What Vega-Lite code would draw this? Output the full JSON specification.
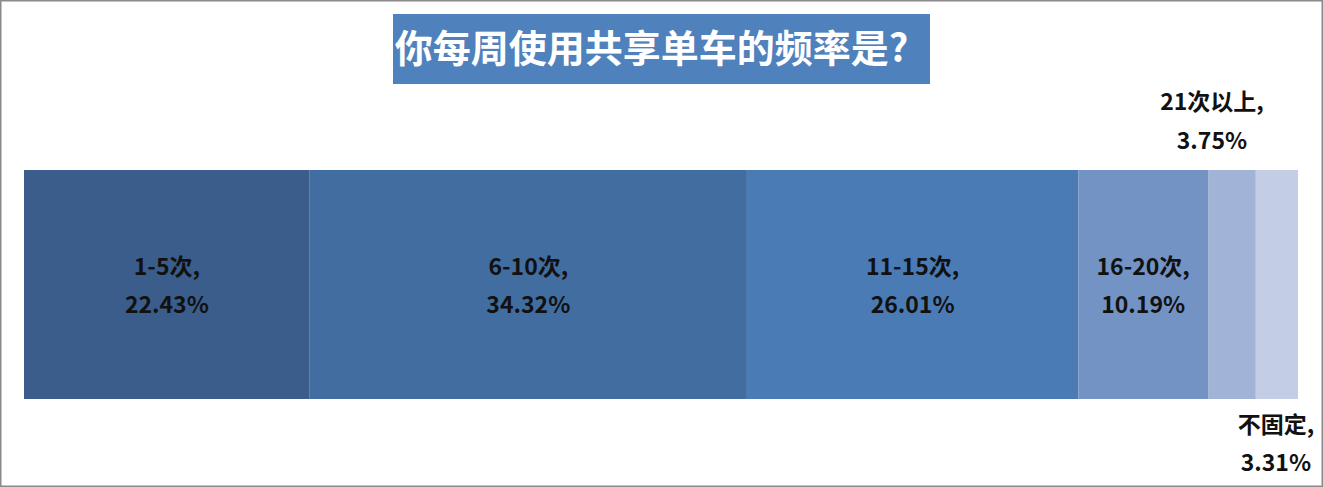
{
  "$schema": "https://vega.github.io/schema/vega-lite/v6.json",
  "width": 1323,
  "height": 487,
  "padding": 0,
  "autosize": "none",
  "background": "white",
  "config": {
    "view": {"stroke": "#8a8a8a", "strokeWidth": 3},
    "text": {"font": "Noto Sans CJK SC", "fontWeight": "bold"}
  },
  "data": {
    "values": [
      {"freq": "1-5次", "pct": 22.43, "order": 1},
      {"freq": "6-10次", "pct": 34.32, "order": 2},
      {"freq": "11-15次", "pct": 26.01, "order": 3},
      {"freq": "16-20次", "pct": 10.19, "order": 4},
      {"freq": "21次以上", "pct": 3.75, "order": 5},
      {"freq": "不固定", "pct": 3.31, "order": 6}
    ]
  },
  "transform": [
    {"stack": "pct", "groupby": [], "sort": [{"field": "order"}], "as": ["x0", "x1"]},
    {"calculate": "(datum.x0 + datum.x1) / 2", "as": "mid"},
    {"calculate": "[datum.freq + ',', format(datum.pct, '.2f') + '%']", "as": "label"}
  ],
  "layer": [
    {
      "mark": {"type": "rect"},
      "encoding": {
        "x": {"field": "x0", "type": "quantitative", "axis": null,
              "scale": {"domain": [-1.884, 101.973], "zero": false, "nice": false}},
        "x2": {"field": "x1"},
        "y": {"datum": 0, "type": "quantitative", "axis": null,
              "scale": {"domain": [-0.3843, 1.7424], "zero": false, "nice": false}},
        "y2": {"datum": 1},
        "color": {
          "field": "freq", "type": "nominal", "legend": null,
          "sort": ["1-5次", "6-10次", "11-15次", "16-20次", "21次以上", "不固定"],
          "scale": {
            "domain": ["1-5次", "6-10次", "11-15次", "16-20次", "21次以上", "不固定"],
            "range": ["#3a5d8b", "#426da0", "#4a7bb5", "#7293c4", "#a1b3d6", "#c3cde3"]
          }
        }
      }
    },
    {
      "transform": [{"filter": "datum.order <= 4"}],
      "mark": {"type": "text", "fontSize": 23, "lineHeight": 38, "baseline": "middle", "color": "#111111", "dy": -17},
      "encoding": {
        "x": {"field": "mid", "type": "quantitative"},
        "y": {"datum": 0.5, "type": "quantitative"},
        "text": {"field": "label"}
      }
    },
    {
      "transform": [{"filter": "datum.order == 5"}],
      "mark": {"type": "text", "fontSize": 23, "lineHeight": 39, "baseline": "middle", "color": "#111111", "dx": -20, "dy": -67},
      "encoding": {
        "x": {"field": "mid", "type": "quantitative"},
        "y": {"datum": 1, "type": "quantitative"},
        "text": {"field": "label"}
      }
    },
    {
      "transform": [{"filter": "datum.order == 6"}],
      "mark": {"type": "text", "fontSize": 23, "lineHeight": 38, "baseline": "middle", "color": "#111111", "dx": -1, "dy": 27},
      "encoding": {
        "x": {"field": "mid", "type": "quantitative"},
        "y": {"datum": 0, "type": "quantitative"},
        "text": {"field": "label"}
      }
    },
    {
      "data": {"values": [{"title": "你每周使用共享单车的频率是?"}]},
      "mark": {"type": "rect", "color": "#4f81bd"},
      "encoding": {
        "x": {"datum": 28.967, "type": "quantitative"},
        "x2": {"datum": 71.122},
        "y": {"datum": 1.6813, "type": "quantitative"},
        "y2": {"datum": 1.3756}
      }
    },
    {
      "data": {"values": [{"title": "你每周使用共享单车的频率是?"}]},
      "mark": {"type": "text", "fontSize": 38, "color": "white", "baseline": "middle", "align": "center", "dx": -10, "dy": 2},
      "encoding": {
        "x": {"datum": 50.04, "type": "quantitative"},
        "y": {"datum": 1.5285, "type": "quantitative"},
        "text": {"field": "title"}
      }
    }
  ]
}
